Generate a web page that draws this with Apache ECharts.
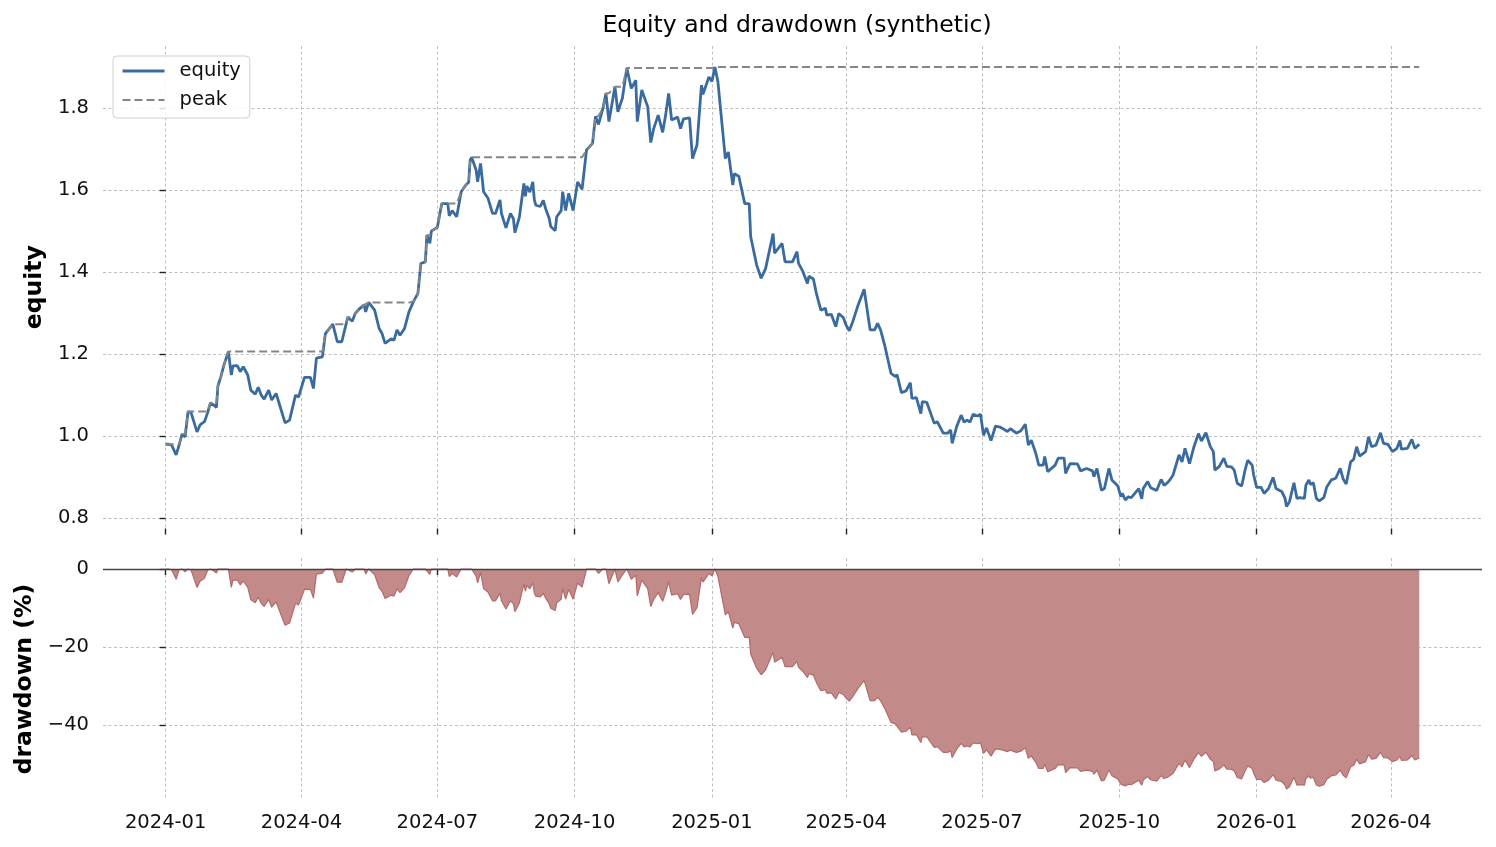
<!DOCTYPE html>
<html>
<head>
<meta charset="utf-8">
<title>Equity and drawdown (synthetic)</title>
<script src="https://cdn.jsdelivr.net/npm/echarts@6/dist/echarts.min.js"></script>
<style>
  html, body { margin: 0; padding: 0; background: #fff; }
  #chart { width: 1496px; height: 847px; }
</style>
</head>
<body>
<div id="chart"></div>
<script>
// Sample dates, as days counted from 2024-01-01
const days = [
  0, 2, 4, 7, 9, 11, 13, 15, 17, 21, 23, 26, 28, 30, 32, 34, 35, 37, 39, 42,
  44, 45, 48, 50, 52, 55, 57, 60, 62, 64, 66, 69, 71, 74, 76, 80, 83, 84, 87, 89,
  93, 97, 99, 101, 105, 107, 112, 115, 118, 121, 122, 125, 127, 130, 133, 134, 136, 140, 143, 145,
  147, 151, 153, 155, 157, 160, 163, 166, 169, 171, 174, 175, 177, 178, 182, 185, 189, 190, 192, 195,
  198, 201, 203, 204, 205, 208, 209, 211, 213, 216, 219, 221, 224, 225, 228, 231, 233, 234, 237, 240,
  241, 242, 244, 246, 247, 248, 251, 253, 255, 257, 258, 261, 262, 265, 266, 268, 270, 273, 276, 279,
  282, 286, 288, 290, 291, 293, 295, 297, 301, 303, 306, 309, 312, 315, 316, 319, 323, 325, 327, 330,
  333, 335, 337, 339, 343, 345, 347, 351, 353, 356, 359, 360, 364, 366, 368, 370, 375, 377, 380, 381,
  384, 388, 391, 392, 396, 399, 402, 407, 408, 413, 415, 420, 423, 424, 427, 430, 431, 434, 436, 439,
  442, 443, 446, 449, 451, 454, 456, 458, 460, 464, 468, 472, 475, 477, 479, 482, 486, 489, 490, 493,
  496, 497, 499, 500, 503, 506, 507, 510, 515, 517, 521, 524, 526, 527, 530, 533, 535, 537, 539, 541,
  544, 546, 548, 550, 553, 556, 559, 561, 564, 566, 570, 573, 576, 578, 580, 583, 585, 588, 589, 591,
  596, 598, 602, 603, 606, 611, 613, 617, 621, 622, 624, 627, 629, 632, 634, 638, 640, 641, 643, 645,
  647, 652, 654, 655, 658, 660, 664, 667, 669, 671, 673, 675, 679, 681, 683, 686, 689, 692, 694, 697,
  700, 702, 703, 706, 709, 711, 714, 716, 718, 721, 723, 725, 728, 729, 731, 734, 736, 739, 742, 744,
  748, 750, 751, 753, 756, 758, 760, 763, 764, 766, 767, 769, 771, 773, 776, 778, 781, 784, 787, 789,
  791, 794, 796, 798, 800, 804, 806, 808, 811, 814, 816, 819, 822, 825, 827, 828, 832, 835, 837, 840
];

const equity = [
  0.980, 0.980, 0.978, 0.954, 0.978, 1.005, 0.998, 1.060, 1.057, 1.010, 1.027, 1.035, 1.056, 1.081, 1.076, 1.070, 1.122, 1.145, 1.173, 1.206,
  1.149, 1.171, 1.172, 1.157, 1.169, 1.149, 1.112, 1.102, 1.119, 1.100, 1.090, 1.112, 1.088, 1.104, 1.080, 1.032, 1.039, 1.035, 1.100, 1.095,
  1.143, 1.143, 1.116, 1.190, 1.193, 1.250, 1.273, 1.230, 1.230, 1.275, 1.290, 1.280, 1.299, 1.311, 1.320, 1.303, 1.326, 1.307, 1.263, 1.250,
  1.226, 1.237, 1.234, 1.259, 1.246, 1.262, 1.303, 1.328, 1.348, 1.421, 1.425, 1.490, 1.470, 1.500, 1.509, 1.567, 1.567, 1.537, 1.550, 1.535,
  1.596, 1.612, 1.619, 1.673, 1.680, 1.649, 1.620, 1.665, 1.596, 1.580, 1.543, 1.543, 1.576, 1.543, 1.508, 1.543, 1.530, 1.496, 1.534, 1.616,
  1.585, 1.610, 1.595, 1.620, 1.577, 1.563, 1.560, 1.575, 1.550, 1.531, 1.511, 1.501, 1.535, 1.550, 1.596, 1.550, 1.592, 1.550, 1.620, 1.602,
  1.698, 1.714, 1.780, 1.760, 1.763, 1.800, 1.836, 1.767, 1.852, 1.791, 1.824, 1.898, 1.848, 1.868, 1.767, 1.844, 1.803, 1.716, 1.750, 1.783,
  1.741, 1.783, 1.836, 1.771, 1.778, 1.750, 1.774, 1.776, 1.677, 1.710, 1.856, 1.834, 1.876, 1.865, 1.900, 1.865, 1.677, 1.693, 1.612, 1.640,
  1.634, 1.567, 1.567, 1.486, 1.417, 1.385, 1.409, 1.494, 1.446, 1.470, 1.425, 1.425, 1.450, 1.422, 1.401, 1.372, 1.390, 1.383, 1.348, 1.307,
  1.312, 1.295, 1.297, 1.267, 1.299, 1.289, 1.270, 1.257, 1.275, 1.320, 1.358, 1.259, 1.259, 1.275, 1.259, 1.218, 1.153, 1.145, 1.150, 1.106,
  1.110, 1.108, 1.130, 1.092, 1.094, 1.055, 1.084, 1.082, 1.031, 1.035, 1.007, 1.007, 1.015, 0.982, 1.023, 1.051, 1.034, 1.039, 1.034, 1.053,
  1.049, 1.053, 1.002, 1.020, 0.989, 1.024, 1.022, 1.018, 1.011, 1.018, 1.007, 1.013, 1.029, 0.978, 0.990, 0.958, 0.929, 0.929, 0.950, 0.913,
  0.929, 0.946, 0.946, 0.909, 0.933, 0.932, 0.915, 0.921, 0.915, 0.901, 0.921, 0.868, 0.872, 0.921, 0.893, 0.878, 0.852, 0.860, 0.844, 0.852,
  0.850, 0.872, 0.847, 0.872, 0.889, 0.874, 0.867, 0.894, 0.880, 0.885, 0.894, 0.905, 0.954, 0.937, 0.970, 0.933, 0.974, 1.006, 0.988, 1.008,
  0.974, 0.962, 0.917, 0.926, 0.946, 0.926, 0.925, 0.917, 0.885, 0.878, 0.913, 0.941, 0.929, 0.905, 0.875, 0.875, 0.860, 0.872, 0.899, 0.872,
  0.864, 0.848, 0.828, 0.840, 0.886, 0.848, 0.850, 0.848, 0.880, 0.893, 0.882, 0.886, 0.848, 0.842, 0.850, 0.876, 0.893, 0.897, 0.921, 0.895,
  0.883, 0.937, 0.943, 0.974, 0.951, 0.962, 0.998, 0.974, 0.978, 1.008, 0.982, 0.980, 0.962, 0.970, 0.989, 0.968, 0.970, 0.992, 0.970, 0.980
];

// Quarter tick labels on the shared date axis
const tickLabels = ['2024-01', '2024-04', '2024-07', '2024-10', '2025-01', '2025-04', '2025-07', '2025-10', '2026-01', '2026-04'];
const equityTicks = [0.8, 1.0, 1.2, 1.4, 1.6, 1.8];
const drawdownTicks = [-40, -20, 0];

const dayMs = 86400000;
const startMs = Date.UTC(2024, 0, 1);
const tickDays = tickLabels.map(t => {
  const [y, m] = t.split('-').map(Number);
  return (Date.UTC(y, m - 1, 1) - startMs) / dayMs;
});

// running peak and drawdown in percent
const peak = [];
let running = -Infinity;
equity.forEach(v => {
  running = Math.max(running, v);
  peak.push(running);
});
const drawdown = equity.map((v, i) => (v / peak[i] - 1) * 100);

const font = 'DejaVu Sans';
const gridLine = { show: true, lineStyle: { color: '#b0b0b0', width: 0.8, type: [3, 2.5] } };
const tickStyle = { show: true, length: 6, lineStyle: { color: '#222', width: 1.4 } };

const dateLabel = (v) => {
  const i = tickDays.indexOf(Math.round(v));
  return i >= 0 ? tickLabels[i] : '';
};
const minusLabel = (v) => (v < 0 ? '\u2212' + Math.abs(v) : String(v));

const chart = echarts.init(document.getElementById('chart'));

const option = {
  animation: false,
  backgroundColor: '#fff',
  textStyle: { fontFamily: font },
  title: {
    text: 'Equity and drawdown (synthetic)',
    left: 792,
    textAlign: 'center',
    top: 9,
    textStyle: { fontFamily: font, fontSize: 23.5, fontWeight: 'normal', color: '#000' }
  },
  legend: {
    data: [
      { name: 'equity', lineStyle: { width: 3 } },
      { name: 'peak', lineStyle: { width: 2 } }
    ],
    orient: 'vertical',
    left: 113,
    top: 56,
    padding: [5, 9, 8, 8],
    itemWidth: 42,
    itemHeight: 14,
    itemGap: 9,
    itemStyle: { opacity: 0 },
    backgroundColor: 'rgba(255,255,255,0.85)',
    borderColor: '#d0d0d0',
    borderWidth: 1,
    borderRadius: 4,
    textStyle: { fontFamily: font, fontSize: 19.5, color: '#111', lineHeight: 20, padding: [0, 0, 0, 10] }
  },
  grid: [
    { left: 103, right: 14, top: 46, height: 482.5 },
    { left: 103, right: 14, top: 558, height: 242 }
  ],
  xAxis: [
    {
      type: 'value', gridIndex: 0, min: -42, max: 882,
      axisLine: { show: false },
      axisTick: Object.assign({ customValues: tickDays }, tickStyle),
      axisLabel: { show: false, customValues: tickDays },
      splitLine: gridLine
    },
    {
      type: 'value', gridIndex: 1, min: -42, max: 882,
      axisLine: { show: false },
      axisTick: Object.assign({ customValues: tickDays }, tickStyle),
      axisLabel: {
        customValues: tickDays, formatter: dateLabel, margin: 13,
        fontFamily: font, fontSize: 19.5, color: '#111'
      },
      splitLine: gridLine
    }
  ],
  yAxis: [
    {
      type: 'value', gridIndex: 0, min: 0.7745, max: 1.9515,
      name: 'equity', nameLocation: 'middle', nameGap: 55,
      nameTextStyle: { fontFamily: font, fontSize: 23.5, fontWeight: 'bold', color: '#000' },
      axisLine: { show: false },
      axisTick: Object.assign({ customValues: equityTicks }, tickStyle),
      axisLabel: {
        customValues: equityTicks, formatter: v => v.toFixed(1), margin: 14,
        fontFamily: font, fontSize: 19.5, color: '#111'
      },
      splitLine: gridLine
    },
    {
      type: 'value', gridIndex: 1, min: -59.2, max: 2.82,
      name: 'drawdown (%)', nameLocation: 'middle', nameGap: 66,
      nameTextStyle: { fontFamily: font, fontSize: 23.5, fontWeight: 'bold', color: '#000' },
      axisLine: { show: false },
      axisTick: Object.assign({ customValues: drawdownTicks }, tickStyle),
      axisLabel: {
        customValues: drawdownTicks, formatter: minusLabel, margin: 14,
        fontFamily: font, fontSize: 19.5, color: '#111'
      },
      splitLine: gridLine
    }
  ],
  series: [
    {
      name: 'equity',
      type: 'line',
      xAxisIndex: 0, yAxisIndex: 0,
      data: days.map((d, i) => [d, equity[i]]),
      symbol: 'none',
      lineStyle: { color: '#3a6b9f', width: 2.8 },
      itemStyle: { color: '#3a6b9f' },
      z: 2
    },
    {
      name: 'peak',
      type: 'line',
      xAxisIndex: 0, yAxisIndex: 0,
      data: days.map((d, i) => [d, peak[i]]),
      symbol: 'none',
      lineStyle: { color: '#858585', width: 2, type: [8, 4] },
      itemStyle: { color: '#858585' },
      z: 3
    },
    {
      name: 'drawdown',
      type: 'line',
      xAxisIndex: 1, yAxisIndex: 1,
      data: days.map((d, i) => [d, drawdown[i]]),
      symbol: 'none',
      lineStyle: { color: '#b5696a', width: 1.2 },
      areaStyle: { color: '#c28a89', opacity: 1 },
      markLine: {
        silent: true,
        symbol: ['none', 'none'],
        label: { show: false },
        lineStyle: { color: '#444', width: 1.3, type: 'solid' },
        data: [{ yAxis: 0 }]
      }
    }
  ]
};

chart.setOption(option);
</script>
</body>
</html>
